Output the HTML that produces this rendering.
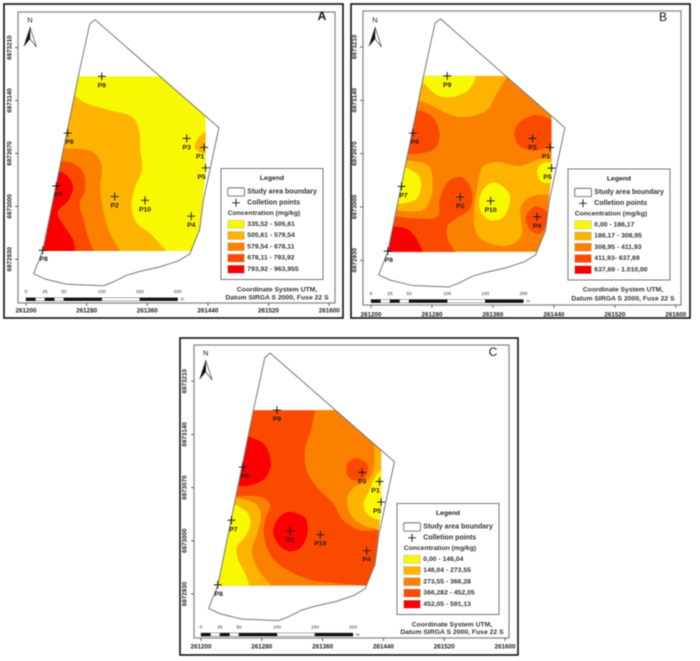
<!DOCTYPE html>
<html lang="en">
<head>
<meta charset="utf-8">
<title>Concentration maps A, B and C</title>
<style>
html,body{margin:0;padding:0;background:#fff;}
#chart{display:block;width:700px;height:661px;filter:blur(0.5px);font-family:"Liberation Sans",sans-serif;}
</style>
</head>
<body>
<svg id="chart" xmlns="http://www.w3.org/2000/svg" width="700" height="661" viewBox="0 0 700 661"></svg>
<script>
// Axis data
const baseEasting = 261200;
const baseNorthing = 6972930;
const eastingTicks = [261200, 261280, 261360, 261440, 261520, 261600];
const northingTicks = [6972930, 6973000, 6973070, 6973140, 6973210];
const scaleBarMetres = [0, 25, 50, 100, 150, 200];
const scaleBarBreaks = [0, 12.5, 25, 37.5, 50, 100, 150, 200];

// Map data, in metres east/north of the base coordinate
const studyBoundary = [[91,317],[84,311],[69,242],[22,11],[10,-19],[25,-26],[54,-33],[102,-35],[115,-30],[133,-21],[150,-16],[177,-10],[201,-2],[216,7],[229,39],[234,78],[254.5,174]];
const gridRegion = [[69,242],[177,242],[237,189],[237,113],[229,39],[218,11],[22,11]];
const pointNames = ['P1','P2','P3','P4','P5','P6','P7','P8','P9','P10'];
const pointEast = [235,117,212,218,237,55,40,22,100,157];
const pointNorth = [148,83,160,57,121,167,97,12,242,78];

// Classes
const classColors = ['#f8f800','#fcb400','#fc8000','#fa4a00','#fa0000'];
const legendA = ['335,52 - 505,61','505,61 - 579,54','579,54 - 678,11','678,11 - 793,92','793,92 - 963,955'];
const legendB = ['0,00 - 186,17','186,17 - 308,95','308,95 - 411,93','411,93- 637,69','637,69 - 1.010,00'];
const legendC = ['0,00 - 146,04','146,04 - 273,55','273,55 - 366,28','366,282 - 452,05','452,05 - 591,13'];

// Contours: class index, smooth curve, straight closure (an empty closure means a closed blob)
const contoursA = [
 [1,[[65,216],[80,206],[111,197],[139,189],[149,171],[151,144],[153,118],[144,96],[139,70],[146,48],[164,34],[185,11],[190,4]],[[190,-10],[-20,-10],[-20,216]]],
 [1,[[237,169],[227,160],[223,147],[234,140],[247,140]],[[247,169]]],
 [2,[[49,146],[71,146],[91,140],[100,122],[98,92],[102,65],[109,39],[124,11],[128,4]],[[128,-10],[-20,-10],[-20,146]]],
 [3,[[44,130],[62,127],[76,114],[78,92],[71,74],[76,52],[82,30],[89,11],[91,4]],[[91,-10],[-20,-10],[-20,130]]],
 [4,[[40,118],[54,111],[62,96],[56,78],[43,65],[43,56],[51,43],[62,26],[65,11],[65,4]],[[65,-10],[-20,-10],[-20,118]]]
];
const contoursB = [
 [1,[[63,210],[82,202],[104,191],[125,188],[152,197],[165,219],[179,242],[182,248]],[[182,260],[-20,260],[-20,210]]],
 [0,[[70,232],[86,217],[104,214],[125,221],[135,234],[138,245]],[[138,260],[-20,260],[-20,232]]],
 [3,[[62,197],[80,189],[90,167],[84,147],[64,140],[49,140]],[[30,140],[30,197]]],
 [1,[[47,131],[71,127],[80,114],[80,88],[71,68],[53,64],[31,66]],[[10,66],[10,131]]],
 [0,[[48,121],[62,112],[66,97],[60,81],[45,75],[31,73]],[[10,73],[10,121]]],
 [3,[[27,58],[60,55],[87,57],[90,79],[101,103],[119,109],[132,92],[130,68],[112,55],[100,44],[101,27],[111,11],[115,5]],[[115,-10],[-20,-10],[-20,58]]],
 [4,[[25,45],[45,42],[58,31],[68,11],[70,5]],[[70,-10],[-20,-10],[-20,45]]],
 [3,[[237,184],[217,191],[196,182],[188,167],[194,151],[213,144],[237,149]],[[250,149],[250,184]]],
 [1,[[237,134],[221,133],[195,124],[165,129],[147,123],[141,105],[135,62],[139,35],[156,22],[182,20],[198,35],[196,68],[211,84],[235,86],[246,84]],[[250,84],[250,134]]],
 [0,[[163,102],[180,90],[182,75],[174,57],[158,52],[145,62],[142,79],[148,94]],[]],
 [0,[[237,129],[224,127],[218,116],[224,103],[237,101]],[[250,101],[250,129]]],
 [3,[[217,71],[230,64],[230,49],[222,35],[209,40],[203,55],[209,66]],[]]
];
const contoursC = [
 [2,[[151,250],[146,220],[137,190],[139,163],[152,141],[174,119],[187,97],[209,84],[236,84],[244,84]],[[260,84],[260,260],[151,260]]],
 [1,[[228,196],[228,172],[222,152],[200,139],[192,122],[200,100],[220,88],[240,84]],[[260,84],[260,196]]],
 [0,[[238,165],[229,154],[222,137],[214,119],[220,104],[240,95]],[[260,95],[260,165]]],
 [4,[[64,207],[84,196],[92,172],[84,152],[64,143],[47,142]],[[30,142],[30,207]]],
 [4,[[117,108],[137,100],[140,80],[132,62],[117,56],[102,65],[95,82],[102,100]],[]],
 [3,[[205,179],[216,174],[220,164],[215,153],[205,149],[195,153],[191,164],[195,174]],[]],
 [2,[[47,129],[78,128],[91,117],[84,97],[83,75],[93,49],[113,32],[143,19],[179,14],[218,11],[240,8]],[[240,-10],[-20,-10],[-20,129]]],
 [1,[[51,126],[71,119],[79,104],[74,80],[67,58],[73,36],[82,23],[93,11],[95,5]],[[95,-10],[-20,-10],[-20,126]]],
 [0,[[47,117],[62,106],[65,91],[58,75],[47,62],[49,45],[58,27],[64,11],[67,5]],[[67,-10],[-20,-10],[-20,117]]]
];

const NS = 'http://www.w3.org/2000/svg';
const root = document.getElementById('chart');

function shape(tag, parent, props) {
  const el = document.createElementNS(NS, tag);
  for (const k in props) el.setAttribute(k, props[k]);
  parent.appendChild(el);
  return el;
}
function label(parent, x, y, content, props) {
  const el = shape('text', parent, Object.assign({x: x, y: y, 'dominant-baseline': 'central', fill: '#222'}, props));
  el.textContent = content;
  
  
  return el;
}
function smoothPath(curve, tail, xf, yf) {
  const p = curve.map(function (c) { return [xf(c[0]), yf(c[1])]; });
  const closed = tail.length === 0;
  const n = p.length;
  const at = function (i) {
    if (closed) return p[(i + n) % n];
    return p[Math.max(0, Math.min(n - 1, i))];
  };
  let d = 'M' + p[0][0].toFixed(2) + ' ' + p[0][1].toFixed(2);
  const segs = closed ? n : n - 1;
  for (let i = 0; i < segs; i++) {
    const a = at(i - 1), b = at(i), c = at(i + 1), e = at(i + 2);
    d += 'C' + (b[0] + (c[0] - a[0]) / 6).toFixed(2) + ' ' + (b[1] + (c[1] - a[1]) / 6).toFixed(2) + ' ' +
         (c[0] - (e[0] - b[0]) / 6).toFixed(2) + ' ' + (c[1] - (e[1] - b[1]) / 6).toFixed(2) + ' ' +
         c[0].toFixed(2) + ' ' + c[1].toFixed(2);
  }
  tail.forEach(function (t) { d += 'L' + xf(t[0]).toFixed(2) + ' ' + yf(t[1]).toFixed(2); });
  return d + 'Z';
}
function polyPoints(list, xf, yf) {
  return list.map(function (c) { return xf(c[0]).toFixed(2) + ',' + yf(c[1]).toFixed(2); }).join(' ');
}

function drawPanel(cfg) {
  const id = cfg.id;
  const g = shape('g', root, {});
  
  
  const xOff = function (e) { return cfg.ox + e * cfg.sx; };
  const yOff = function (n) { return cfg.oy - n * cfg.sy; };
  const xAxis = function (e) { return xOff(e - baseEasting); };
  const yAxis = function (n) { return yOff(n - baseNorthing); };

  const outer = shape('rect', g, {x: cfg.outer[0], y: cfg.outer[1], width: cfg.outer[2] - cfg.outer[0], height: cfg.outer[3] - cfg.outer[1], fill: '#fff', stroke: '#111', 'stroke-width': 1.6});
  
  
  const frame = shape('rect', g, {x: cfg.frame[0], y: cfg.frame[1], width: cfg.frame[2] - cfg.frame[0], height: cfg.frame[3] - cfg.frame[1], fill: '#fff', stroke: '#8a8a8a', 'stroke-width': 1.3});
  
  

  // Axis ticks and labels
  eastingTicks.forEach(function (t) {
    const tick = shape('line', g, {x1: xAxis(t), x2: xAxis(t), y1: cfg.frame[3], y2: cfg.frame[3] + 3, stroke: '#444', 'stroke-width': 0.8});
    
    
    label(g, xAxis(t), cfg.xLabelY, String(t), {'font-size': 6.3, 'font-weight': 700, 'text-anchor': 'middle'});
  });
  northingTicks.forEach(function (t) {
    const tick = shape('line', g, {x1: cfg.frame[0] - 3, x2: cfg.frame[0], y1: yAxis(t), y2: yAxis(t), stroke: '#444', 'stroke-width': 0.8});
    
    
    label(g, 0, 0, String(t), {'font-size': 6.3, 'font-weight': 700, 'text-anchor': 'middle', transform: 'translate(' + cfg.yLabelX + ' ' + yAxis(t) + ') rotate(-90)'});
  });

  // Study area
  const fillArea = shape('polygon', g, {points: polyPoints(studyBoundary, xOff, yOff), fill: '#fff'});
  
  

  const clip = shape('clipPath', g, {id: 'region-' + id});
  shape('polygon', clip, {points: polyPoints(gridRegion, xOff, yOff)});
  const contourGroup = shape('g', g, {'clip-path': 'url(#region-' + id + ')'});
  
  
  const base = shape('polygon', contourGroup, {points: polyPoints(gridRegion, xOff, yOff), fill: classColors[cfg.baseClass]});
  
  
  cfg.contours.forEach(function (c) {
    const path = shape('path', contourGroup, {d: smoothPath(c[1], c[2], xOff, yOff), fill: classColors[c[0]]});
    
    
  });
  const outline = shape('polygon', g, {points: polyPoints(studyBoundary, xOff, yOff), fill: 'none', stroke: '#777', 'stroke-width': 1, 'stroke-linejoin': 'round'});
  
  

  // Collection points
  pointNames.forEach(function (name, i) {
    const px = xOff(pointEast[i]);
    const py = yOff(pointNorth[i]);
    const mark = shape('path', g, {d: 'M' + (px - 4) + ' ' + py + 'H' + (px + 4) + 'M' + px + ' ' + (py - 4) + 'V' + (py + 4), stroke: '#1a1a1a', 'stroke-width': 0.95, fill: 'none'});
    
    
    const shift = (name === 'P1' || name === 'P5') ? -4 : (name === 'P6' || name === 'P7') ? 2 : (name === 'P8') ? 1 : 0;
    const t = label(g, px + shift, py + 9.5, name, {'font-size': 6.8, 'font-weight': 700, 'text-anchor': 'middle', fill: '#2a1a10'});
    
  });

  // North arrow
  const na = cfg.north;
  label(g, na[0], na[1] - 7, 'N', {'font-size': 7.5, 'text-anchor': 'middle'});
  const arrowDark = shape('polygon', g, {points: na[0] + ',' + na[1] + ' ' + (na[0] - 6.5) + ',' + (na[1] + 20) + ' ' + na[0] + ',' + (na[1] + 12), fill: '#111'});
  
  
  const arrowLight = shape('polygon', g, {points: na[0] + ',' + na[1] + ' ' + (na[0] + 6.5) + ',' + (na[1] + 20) + ' ' + na[0] + ',' + (na[1] + 12), fill: '#fff', stroke: '#333', 'stroke-width': 0.6});
  
  

  // Panel letter
  const letter = label(g, cfg.letter[0], cfg.letter[1], id, {'font-size': 12, 'font-weight': cfg.letterWeight, 'text-anchor': 'middle', fill: '#111'});
  

  // Legend
  const L = cfg.legend;
  const box = shape('rect', g, {x: L[0], y: L[1], width: 102, height: 111, fill: '#fff', stroke: '#777', 'stroke-width': 1});
  
  
  label(g, L[0] + 51, L[1] + 10, 'Legend', {'font-size': 6.8, 'font-weight': 700, 'text-anchor': 'middle'});
  const sw = shape('rect', g, {x: L[0] + 6.7, y: L[1] + 19.3, width: 16.7, height: 8.3, rx: 1, fill: '#fff', stroke: '#555', 'stroke-width': 0.8});
  
  
  label(g, L[0] + 26.3, L[1] + 23.3, 'Study area boundary', {'font-size': 7, 'font-weight': 700, fill: '#333'});
  const cx = L[0] + 15;
  const cy = L[1] + 34.3;
  const legendCross = shape('path', g, {d: 'M' + (cx - 4) + ' ' + cy + 'H' + (cx + 4) + 'M' + cx + ' ' + (cy - 4) + 'V' + (cy + 4), stroke: '#1a1a1a', 'stroke-width': 0.95, fill: 'none'});
  
  
  label(g, L[0] + 26.3, cy, 'Colletion points', {'font-size': 7, 'font-weight': 700, fill: '#333'});
  label(g, L[0] + 6.7, L[1] + 45, 'Concentration (mg/kg)', {'font-size': 6.8, 'font-weight': 700, fill: '#333'});
  cfg.legendLabels.forEach(function (text, i) {
    const yy = L[1] + 51.8 + i * 11.25;
    const s = shape('rect', g, {x: L[0] + 6.7, y: yy, width: 16.7, height: 8, fill: classColors[i], stroke: '#aaa', 'stroke-width': 0.4});
    
    
    label(g, L[0] + 26.3, yy + 4, text, {'font-size': 6.8, 'font-weight': 700, fill: '#333'});
  });

  // Scale bar
  for (let i = 0; i < scaleBarBreaks.length - 1; i++) {
    const seg = shape('rect', g, {x: xOff(scaleBarBreaks[i]), y: cfg.scaleY, width: (scaleBarBreaks[i + 1] - scaleBarBreaks[i]) * cfg.sx, height: 3.2, fill: i % 2 ? '#fff' : '#111', stroke: '#333', 'stroke-width': 0.4});
    
    
  }
  scaleBarMetres.forEach(function (m) {
    label(g, xOff(m), cfg.scaleY - 5, String(m), {'font-size': 4.8, 'text-anchor': 'middle', fill: '#333'});
  });
  label(g, xOff(200) + 3, cfg.scaleY + 1.5, 'm', {'font-size': 4.2, fill: '#333'});

  // Coordinate note
  label(g, cfg.note[0], cfg.note[1], 'Coordinate System UTM,', {'font-size': 6.8, 'font-weight': 700, 'text-anchor': 'middle', fill: '#333'});
  label(g, cfg.note[0], cfg.note[2], 'Datum SIRGA S 2000, Fuse 22 S', {'font-size': 6.8, 'font-weight': 700, 'text-anchor': 'middle', fill: '#333'});
}

drawPanel({id: 'A', contours: contoursA, baseClass: 0, legendLabels: legendA,
  ox: 26, oy: 259.3, sx: 0.758, sy: 0.756,
  outer: [4, 4, 343, 318], frame: [18, 12, 335, 303],
  xLabelY: 311, yLabelX: 10, north: [30, 27], letter: [322, 16], letterWeight: 700,
  legend: [221, 168.5], scaleY: 297.7, note: [277, 290, 298]});
drawPanel({id: 'B', contours: contoursB, baseClass: 2, legendLabels: legendB,
  ox: 371, oy: 260.3, sx: 0.762, sy: 0.762,
  outer: [351, 4, 690, 318], frame: [363, 11, 681, 305],
  xLabelY: 315, yLabelX: 355, north: [375, 27], letter: [663, 17], letterWeight: 400,
  legend: [568, 169], scaleY: 299.5, note: [623, 290, 299]});
drawPanel({id: 'C', contours: contoursC, baseClass: 3, legendLabels: legendC,
  ox: 201, oy: 594, sx: 0.76, sy: 0.76,
  outer: [180, 338, 518, 655], frame: [194, 345, 509, 638],
  xLabelY: 647, yLabelX: 185, north: [205.7, 360], letter: [493, 352], letterWeight: 400,
  legend: [397, 503.5], scaleY: 633, note: [452, 625, 632.5]});
</script>
</body>
</html>
